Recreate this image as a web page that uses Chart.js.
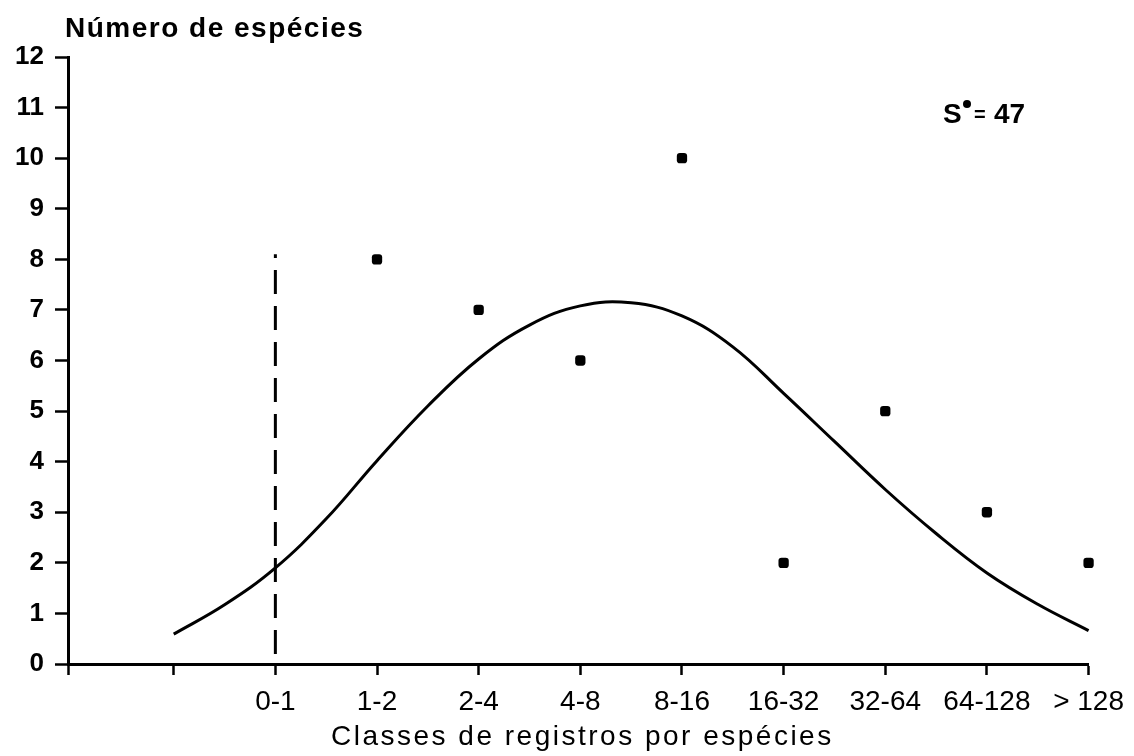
<!DOCTYPE html>
<html>

<head>
    <meta charset="utf-8">
    <title>Número de espécies por classe de registros</title>
    <script src="https://cdn.jsdelivr.net/npm/chart.js"></script>
    <style>
        html, body { margin: 0; padding: 0; background: #fff; }
    </style>
</head>

<body>
    <canvas id="chart" width="1134" height="756"></canvas>
    <script>
        // x positions of the classes; 0 is the unlabelled tick left of "0-1"
        var classPos = [0, 1, 2, 3, 4, 5, 6, 7, 8, 9];
        var classLabels = ['', '0-1', '1-2', '2-4', '4-8', '8-16', '16-32', '32-64', '64-128', '> 128'];
        var xMin = -1.04;

        var yTicks = [0, 1, 2, 3, 4, 5, 6, 7, 8, 9, 10, 11, 12];

        // observed number of species in each class
        var obsPos = [2, 3, 4, 5, 6, 7, 8, 9];
        var obsSpecies = [8, 7, 6, 10, 2, 5, 3, 2];

        // fitted lognormal curve, read every half class
        var fitPos = [0, 0.5, 1, 1.5, 2, 2.5, 3, 3.5, 4, 4.5, 5, 5.5, 6, 6.5, 7, 7.5, 8, 8.5, 9];
        var fitSpecies = [0.59, 1.17, 1.9, 2.87, 4.02, 5.1, 6.03, 6.7, 7.08, 7.14, 6.88, 6.27, 5.35, 4.4, 3.45, 2.58, 1.8, 1.18, 0.66];

        // veil line at the 0-1 class
        var veilPos = [1, 1];
        var veilSpecies = [0.2, 8.1];

        var FONT = '"Liberation Sans", Arial, sans-serif';

        function pairs(xs, ys) {
            return xs.map(function (x, i) { return { x: x, y: ys[i] }; });
        }

        // axis titles and the S* note
        var textPlugin = {
            id: 'textLabels',
            afterDraw: function (chart) {
                var ctx = chart.ctx;
                ctx.save();
                ctx.fillStyle = '#000';
                ctx.textBaseline = 'alphabetic';
                ctx.textAlign = 'left';

                ctx.font = 'bold 28px ' + FONT;
                ctx.letterSpacing = '1.5px';
                ctx.fillText('Número de espécies', 65, 37);

                ctx.font = '28px ' + FONT;
                ctx.letterSpacing = '2.5px';
                ctx.fillText('Classes de registros por espécies', 331, 745);

                ctx.letterSpacing = '0px';
                ctx.font = 'bold 28px ' + FONT;
                ctx.fillText('S', 943, 123);
                ctx.beginPath();
                ctx.arc(967, 104, 4, 0, Math.PI * 2);
                ctx.fill();
                ctx.font = 'bold 20px ' + FONT;
                ctx.fillText('=', 974, 121);
                ctx.font = 'bold 28px ' + FONT;
                ctx.fillText('47', 994, 123);
                ctx.restore();
            }
        };

        var ctx = document.getElementById('chart').getContext('2d');
        var chart = new Chart(ctx, {
            type: 'scatter',
            data: {
                datasets: [{
                    label: 'Curva ajustada',
                    data: pairs(fitPos, fitSpecies),
                    showLine: true,
                    borderColor: '#000',
                    borderWidth: 3,
                    pointRadius: 0,
                    tension: 0.4,
                    clip: false
                }, {
                    label: 'Linha de véu',
                    data: pairs(veilPos, veilSpecies),
                    showLine: true,
                    borderColor: '#000',
                    borderWidth: 3,
                    borderDash: [24, 12],
                    pointRadius: 0,
                    clip: false
                }, {
                    label: 'Observado',
                    data: pairs(obsPos, obsSpecies),
                    pointStyle: 'rectRounded',
                    pointRadius: 6,
                    backgroundColor: '#000',
                    borderColor: '#000',
                    borderWidth: 0,
                    clip: false
                }]
            },
            options: {
                responsive: false,
                animation: false,
                layout: {
                    padding: { top: 57, right: 41, left: 0, bottom: 0 }
                },
                plugins: {
                    legend: { display: false },
                    tooltip: { enabled: false }
                },
                scales: {
                    x: {
                        type: 'linear',
                        min: xMin,
                        max: 9,
                        afterBuildTicks: function (scale) {
                            scale.ticks = [xMin].concat(classPos).map(function (v) { return { value: v }; });
                        },
                        afterFit: function (scale) { scale.height = 92; },
                        border: { display: true, color: '#000', width: 3 },
                        grid: {
                            drawOnChartArea: false,
                            drawTicks: true,
                            tickLength: 11,
                            tickWidth: 2.5,
                            tickColor: '#000'
                        },
                        ticks: {
                            autoSkip: false,
                            maxRotation: 0,
                            padding: 10,
                            color: '#000',
                            font: { family: FONT, size: 28 },
                            callback: function (value) {
                                var i = classPos.indexOf(value);
                                return i >= 0 ? classLabels[i] : '';
                            }
                        }
                    },
                    y: {
                        min: 0,
                        max: 12,
                        afterBuildTicks: function (scale) {
                            scale.ticks = yTicks.map(function (v) { return { value: v }; });
                        },
                        afterFit: function (scale) { scale.width = 68; },
                        border: { display: true, color: '#000', width: 3 },
                        grid: {
                            drawOnChartArea: false,
                            drawTicks: true,
                            tickLength: 13,
                            tickWidth: 2.5,
                            tickColor: '#000'
                        },
                        ticks: {
                            padding: 11,
                            color: '#000',
                            font: { family: FONT, size: 26, weight: 'bold' }
                        }
                    }
                }
            },
            plugins: [textPlugin]
        });
    </script>
</body>

</html>
